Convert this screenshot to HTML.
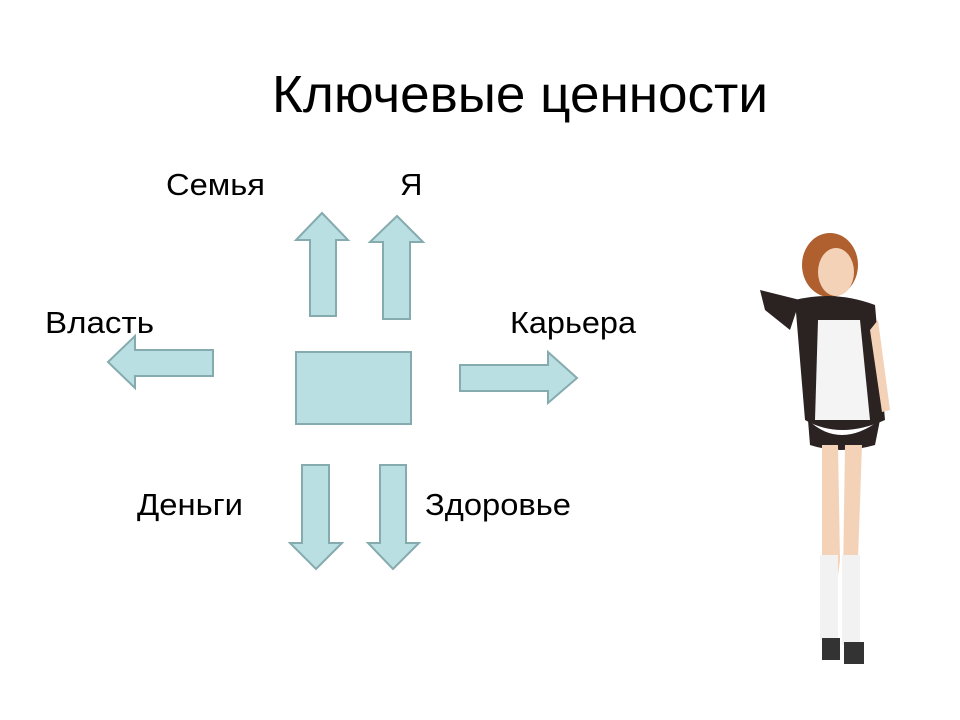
<!DOCTYPE html>
<html><head><meta charset="utf-8"><style>
body{margin:0;width:960px;height:720px;background:#fff;overflow:hidden}
svg{display:block}
text{font-family:"Liberation Sans",sans-serif;fill:#000}
</style></head><body>
<svg width="960" height="720" viewBox="0 0 960 720">
<text x="272" y="112" font-size="52" textLength="496" lengthAdjust="spacingAndGlyphs">Ключевые ценности</text>
<text x="166" y="195" font-size="31" textLength="99" lengthAdjust="spacingAndGlyphs">Семья</text>
<text x="400" y="195" font-size="31">Я</text>
<text x="45" y="333" font-size="31" textLength="109" lengthAdjust="spacingAndGlyphs">Власть</text>
<text x="510" y="333" font-size="31" textLength="126" lengthAdjust="spacingAndGlyphs">Карьера</text>
<text x="137" y="515" font-size="31" textLength="106" lengthAdjust="spacingAndGlyphs">Деньги</text>
<text x="425" y="515" font-size="31" textLength="146" lengthAdjust="spacingAndGlyphs">Здоровье</text>
<g fill="#b9dfe2" stroke="#86abae" stroke-width="2">
<polygon points="322,213 348,240 336,240 336,316 310,316 310,240 296,240"/>
<polygon points="397,216 423,242 410,242 410,319 383,319 383,242 370,242"/>
<polygon points="108,362 135,336 135,350 213,350 213,376 135,376 135,388"/>
<rect x="296" y="352" width="115" height="72"/>
<polygon points="577,378 548,352 548,365 460,365 460,391 548,391 548,403"/>
<polygon points="316,569 342,543 329,543 329,465 302,465 302,543 290,543"/>
<polygon points="393,569 419,543 406,543 406,465 380,465 380,543 368,543"/>
</g>
<g>
<ellipse cx="830" cy="265" rx="28" ry="32" fill="#b0602e"/>
<ellipse cx="836" cy="272" rx="18" ry="24" fill="#f3d2b8"/>
<path d="M795,300 Q835,290 875,305 L885,420 Q840,440 805,420 Z" fill="#2b2222"/>
<path d="M818,320 L860,320 L870,420 L815,420 Z" fill="#f4f4f4"/>
<path d="M760,290 L800,300 L790,330 L765,310 Z" fill="#2b2222"/>
<path d="M808,420 Q840,450 880,420 L875,445 Q840,455 810,445 Z" fill="#2b2222"/>
<path d="M822,445 L838,445 L840,560 L830,640 L822,640 Z" fill="#f3d2b8"/>
<path d="M845,445 L862,445 L858,560 L850,645 L842,645 Z" fill="#f3d2b8"/>
<rect x="820" y="555" width="18" height="85" fill="#f2f2f2"/>
<rect x="842" y="555" width="18" height="90" fill="#f2f2f2"/>
<rect x="822" y="638" width="18" height="22" fill="#333"/>
<rect x="844" y="642" width="20" height="22" fill="#333"/>
<path d="M878,320 L890,410 L882,412 L870,330 Z" fill="#f3d2b8"/>
</g>
</svg>
</body></html>
